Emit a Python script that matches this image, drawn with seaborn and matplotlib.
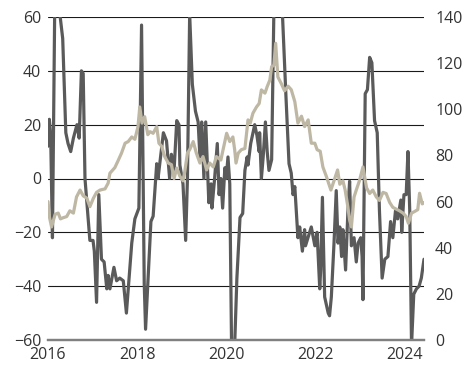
import matplotlib
matplotlib.use("Agg")
import matplotlib.pyplot as plt
import seaborn as sns
import pandas as pd

# Dark series (left axis)
dark_year = [2016.00, 2016.03, 2016.06, 2016.10, 2016.15, 2016.20, 2016.26, 2016.33, 2016.40, 2016.45,
             2016.51, 2016.57, 2016.65, 2016.70, 2016.75, 2016.79, 2016.83, 2016.94, 2017.01, 2017.04,
             2017.09, 2017.14, 2017.20, 2017.26, 2017.32, 2017.35, 2017.39, 2017.48, 2017.54, 2017.61,
             2017.69, 2017.76, 2017.88, 2017.95, 2018.04, 2018.10, 2018.16, 2018.19, 2018.25, 2018.31,
             2018.36, 2018.44, 2018.47, 2018.59, 2018.66, 2018.73, 2018.77, 2018.83, 2018.89, 2018.94,
             2018.96, 2019.03, 2019.09, 2019.13, 2019.18, 2019.24, 2019.31, 2019.37, 2019.41, 2019.45,
             2019.50, 2019.54, 2019.61, 2019.66, 2019.68, 2019.74, 2019.80, 2019.84, 2019.88, 2019.92,
             2019.97, 2020.00, 2020.04, 2020.08, 2020.12, 2020.19, 2020.24, 2020.31, 2020.37, 2020.42,
             2020.47, 2020.49, 2020.55, 2020.64, 2020.69, 2020.74, 2020.75, 2020.79, 2020.83, 2020.88,
             2020.92, 2020.96, 2021.02, 2021.07, 2021.16, 2021.26, 2021.34, 2021.41, 2021.46, 2021.50,
             2021.54, 2021.61, 2021.65, 2021.71, 2021.76, 2021.78, 2021.91, 2021.99, 2022.04, 2022.10,
             2022.12, 2022.16, 2022.21, 2022.29, 2022.32, 2022.36, 2022.42, 2022.47, 2022.51, 2022.55,
             2022.59, 2022.62, 2022.68, 2022.73, 2022.77, 2022.81, 2022.87, 2022.92, 2022.96, 2023.02,
             2023.05, 2023.07, 2023.12, 2023.17, 2023.22, 2023.27, 2023.33, 2023.39, 2023.44, 2023.50,
             2023.56, 2023.63, 2023.69, 2023.74, 2023.80, 2023.85, 2023.92, 2023.94, 2023.99, 2024.04,
             2024.08, 2024.12, 2024.16, 2024.21, 2024.27, 2024.33, 2024.38, 2024.44]
dark_val = [12, 22, 16, -22, 62, 75, 62, 52, 17, 13,
            10, 15, 20, 15, 40, 39, 0, -23, -23, -27,
            -46, -6, -30, -31, -41, -36, -41, -33, -38, -37,
            -38, -50, -24, -15, -11, 57, -39, -56, -36, -16,
            -14, 5.5, 0, 17, 14, 0, 9, 3, 21.5, 20,
            5, -2, -23, 0, 61, 35, 25, 21, 8, 21,
            0, 21, -9, -2, -11, 0, 13, -6, 0, -11,
            4, 0, 8, -2, -62, -62, -37, -14.5, -13, 3,
            8, 5, 13, 20, 16, 10, 17, 0, 8, 21,
            10, 3, 7, 62, 75, 62, 31, 5.5, 2, -6,
            -3, -22, -18, -27, -19, -25, -18, -25, -20, -41,
            -34, -7, -44, -50, -51, -44, -24, -4.5, -24, -18,
            -29, -19, -34, -13, -1, -25, -22, -31, -24, -22,
            -29, -45, 31.5, 33, 45, 43, 21.5, 17, -12, -37,
            -30, -29, -16, -22, -12, -15, -8, -20, -6, -6,
            10, -12, -62, -43, -41, -40, -37, -30]

# Beige series (right axis)
beige_year = [2016.00, 2016.03, 2016.08, 2016.16, 2016.23, 2016.28, 2016.34, 2016.42, 2016.49, 2016.57,
              2016.64, 2016.72, 2016.79, 2016.87, 2016.94, 2017.02, 2017.09, 2017.17, 2017.28, 2017.35,
              2017.39, 2017.50, 2017.58, 2017.65, 2017.73, 2017.80, 2017.88, 2017.95, 2018.02, 2018.06,
              2018.11, 2018.17, 2018.24, 2018.29, 2018.36, 2018.44, 2018.49, 2018.55, 2018.62, 2018.70,
              2018.77, 2018.83, 2018.89, 2018.96, 2019.03, 2019.07, 2019.13, 2019.18, 2019.26, 2019.33,
              2019.41, 2019.48, 2019.56, 2019.63, 2019.71, 2019.78, 2019.88, 2019.93, 2020.01, 2020.08,
              2020.15, 2020.19, 2020.22, 2020.27, 2020.34, 2020.42, 2020.49, 2020.54, 2020.60, 2020.68,
              2020.74, 2020.79, 2020.87, 2020.92, 2020.98, 2021.02, 2021.07, 2021.11, 2021.16, 2021.24,
              2021.31, 2021.39, 2021.46, 2021.54, 2021.61, 2021.69, 2021.76, 2021.84, 2021.91, 2021.99,
              2022.04, 2022.11, 2022.17, 2022.25, 2022.35, 2022.42, 2022.50, 2022.55, 2022.62, 2022.67,
              2022.73, 2022.77, 2022.81, 2022.87, 2022.92, 2022.99, 2023.07, 2023.15, 2023.22, 2023.29,
              2023.37, 2023.44, 2023.52, 2023.59, 2023.67, 2023.74, 2023.82, 2023.89, 2023.97, 2024.04,
              2024.09, 2024.16, 2024.23, 2024.30, 2024.34, 2024.40, 2024.44]
beige_val = [60, 53.5, 49, 54.5, 55, 52.5, 53, 53.5, 56, 55,
             62, 65, 62.5, 61.5, 57.8, 61.5, 64, 65, 65.5, 68,
             72.3, 74.7, 78, 81, 85.3, 86, 88, 87, 92.5, 101,
             94, 96.8, 89, 90.3, 89.6, 92.5, 85.3, 84, 79.5, 76.7,
             76, 70, 74.5, 71, 69, 73, 81, 82.5, 86, 81,
             76.7, 79.5, 73.7, 76.7, 75, 79.5, 78, 82.5, 89.6, 86,
             88, 82.5, 76.7, 81, 82.5, 83, 95.4, 94, 98.3, 101,
             102.5, 108.4, 107, 109.8, 112.7, 118.5, 119, 128.6, 114, 111,
             108, 110, 108.5, 103.3, 94, 97, 92.5, 95.4, 85.3, 85.3,
             82.5, 81.8, 75, 70.8, 65, 69, 73.7, 67.5, 69, 65,
             57.8, 52, 49, 62, 65, 69, 75, 66, 63.5, 65,
             62, 60.5, 64, 63.5, 59.6, 57.5, 56.7, 56, 55, 53.5,
             50.6, 55, 55.7, 56.5, 63.6, 59, 59.5]

left_ticks = [-60, -40, -20, 0, 20, 40, 60]
right_ticks = [0, 20, 40, 60, 80, 100, 120, 140]
x_ticks = [2016, 2018, 2020, 2022, 2024]

sns.set_style("white")
plt.rcParams['font.family'] = ['Open Sans', 'DejaVu Sans']

dark_df = pd.DataFrame({"year": dark_year, "val": dark_val})
beige_df = pd.DataFrame({"year": beige_year, "val": beige_val})

fig = plt.figure(figsize=(4.7, 3.69), dpi=100)
ax = fig.add_axes([48/470, 1 - 340/369, (424 - 48)/470, (340 - 17)/369])

for t in left_ticks[1:]:
    ax.axhline(t, color="#1a1a1a", lw=0.8, zorder=0)

sns.lineplot(data=dark_df, x="year", y="val", ax=ax, color="#5a5a5a", lw=2.3, zorder=2)
ax.set_xlim(2016, 2024.44)
ax.set_ylim(-60, 60)
ax.set_yticks(left_ticks)
ax.set_xticks(x_ticks)
ax.set_xlabel("")
ax.set_ylabel("")

ax2 = ax.twinx()
sns.lineplot(data=beige_df, x="year", y="val", ax=ax2, color="#bdb7a4", lw=2.3, zorder=3)
ax2.set_ylim(0, 140)
ax2.set_yticks(right_ticks)
ax2.set_ylabel("")
ax2.set_xlim(2016, 2024.44)

for a in (ax, ax2):
    for s in ["top", "left", "right"]:
        a.spines[s].set_visible(False)
    a.spines["bottom"].set_color("#808080")
    a.spines["bottom"].set_linewidth(1.6)
    a.tick_params(length=0, labelsize=11.5, colors="#333333")
    a.grid(False)

ax.tick_params(axis="y", pad=5)
ax.tick_params(axis="x", pad=5)
ax2.tick_params(axis="y", pad=8)

fig.savefig("out.png", dpi=100)
